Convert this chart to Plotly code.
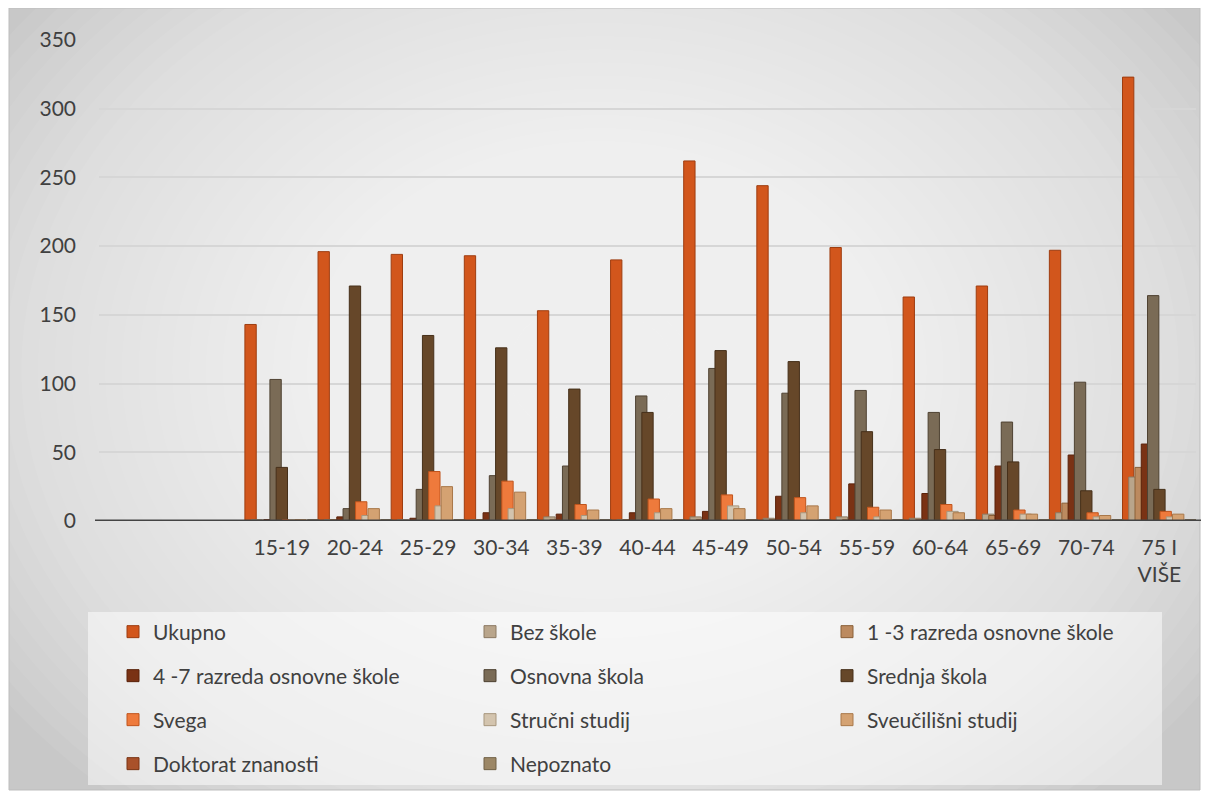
import plotly.graph_objects as go

categories = [" ", "  ", "15-19", "20-24", "25-29", "30-34", "35-39", "40-44",
              "45-49", "50-54", "55-59", "60-64", "65-69", "70-74", "75 I VIŠE"]
tick_labels = ["15-19", "20-24", "25-29", "30-34", "35-39", "40-44", "45-49",
               "50-54", "55-59", "60-64", "65-69", "70-74", "75 I<br>VIŠE"]

series_names = ["Ukupno", "Bez škole", "1 -3 razreda osnovne škole",
                "4 -7 razreda osnovne škole", "Osnovna škola", "Srednja škola",
                "Svega", "Stručni studij", "Sveučilišni studij",
                "Doktorat znanosti", "Nepoznato"]

ukupno      = [0, 0, 143, 196, 194, 193, 153, 190, 262, 244, 199, 163, 171, 197, 323]
bez_skole   = [0, 0, 1, 1, 1, 1, 3, 1, 3, 2, 3, 2, 5, 6, 32]
razred_1_3  = [0, 0, 0, 1, 0, 1, 1, 1, 1, 1, 1, 1, 4, 13, 39]
razred_4_7  = [0, 0, 1, 3, 2, 6, 5, 6, 7, 18, 27, 20, 40, 48, 56]
osnovna     = [0, 0, 103, 9, 23, 33, 40, 91, 111, 93, 95, 79, 72, 101, 164]
srednja     = [0, 0, 39, 171, 135, 126, 96, 79, 124, 116, 65, 52, 43, 22, 23]
svega       = [0, 0, 1, 14, 36, 29, 12, 16, 19, 17, 10, 12, 8, 6, 7]
strucni     = [0, 0, 1, 4, 11, 9, 4, 6, 11, 6, 3, 7, 5, 3, 3]
sveucilisni = [0, 0, 1, 9, 25, 21, 8, 9, 9, 11, 8, 6, 5, 4, 5]
doktorat    = [0, 0, 0, 0, 0, 0, 0, 0, 0, 0, 0, 0, 0, 0, 0]
nepoznato   = [0, 0, 1, 1, 1, 1, 1, 1, 1, 1, 1, 1, 1, 1, 1]

series_values = [ukupno, bez_skole, razred_1_3, razred_4_7, osnovna, srednja,
                 svega, strucni, sveucilisni, doktorat, nepoznato]

fill_colors = ["#D2561C", "#B9A58B", "#BC8A5F", "#7A3214", "#7A6B56", "#664729",
               "#EE7A3C", "#D3C4AE", "#D4A272", "#A9512A", "#9C8766"]
line_colors = ["#9E3D10", "#8C7A63", "#8A6038", "#5A220A", "#4F4232", "#46301A",
               "#C0541C", "#A8977E", "#A9784A", "#7A3414", "#716146"]

# page has an 8px body margin: work in reference pixel coords, shifted by OFF
OFF = 8
W, H = 1209 - OFF, 796 - OFF
PLOT_L, PLOT_R, PLOT_T, PLOT_B = 99 - OFF, 1196 - OFF, 40 - OFF, 521 - OFF
ML, MR, MT, MB = PLOT_L, W - PLOT_R, PLOT_T, H - PLOT_B
PW = PLOT_R - PLOT_L
PH = PLOT_B - PLOT_T


def xp(px):
    return (px - OFF - PLOT_L) / PW


def yp(py):
    return (PLOT_B - (py - OFF)) / PH


slot = 0.0855
bar_w = 0.155
font_family = "Lato"
text_color = "#404040"

fig = go.Figure()
legend_ids = ["legend", "legend2", "legend3", "legend4"]
for i, (name, vals) in enumerate(zip(series_names, series_values)):
    center = (i - 5) * slot
    fig.add_trace(go.Bar(
        name=name, x=categories, y=vals,
        width=bar_w, offset=center - bar_w / 2,
        marker=dict(color=fill_colors[i], line=dict(color=line_colors[i], width=1)),
        legend=legend_ids[i // 3],
        hoverinfo="x+y+name",
    ))

# background: chart area with a smooth radial-like gradient
shapes = [dict(type="rect", xref="paper", yref="paper", layer="below",
               x0=xp(9), x1=xp(1200), y0=yp(790), y1=yp(8),
               fillcolor="#C8C8C8", line=dict(width=0))]
cx, cy, rx, ry = 600, 370, 730, 570
n_layers = 40
for k in range(n_layers):
    s = 1.0 - k * (0.92 / n_layers)
    shapes.append(dict(type="circle", xref="paper", yref="paper", layer="below",
                       x0=xp(cx - rx * s), x1=xp(cx + rx * s),
                       y0=yp(cy + ry * s), y1=yp(cy - ry * s),
                       fillcolor="rgba(255,255,255,0.06)", line=dict(width=0)))
# white outside the chart frame + frame line
shapes += [
    dict(type="rect", xref="paper", yref="paper", layer="below",
         x0=xp(-20), x1=xp(9), y0=yp(820), y1=yp(-20), fillcolor="white", line=dict(width=0)),
    dict(type="rect", xref="paper", yref="paper", layer="below",
         x0=xp(1200), x1=xp(1230), y0=yp(820), y1=yp(-20), fillcolor="white", line=dict(width=0)),
    dict(type="rect", xref="paper", yref="paper", layer="below",
         x0=xp(-20), x1=xp(1230), y0=yp(8), y1=yp(-20), fillcolor="white", line=dict(width=0)),
    dict(type="rect", xref="paper", yref="paper", layer="below",
         x0=xp(-20), x1=xp(1230), y0=yp(820), y1=yp(790), fillcolor="white", line=dict(width=0)),
    dict(type="rect", xref="paper", yref="paper", layer="below",
         x0=xp(9), x1=xp(1200), y0=yp(790), y1=yp(8),
         fillcolor="rgba(0,0,0,0)", line=dict(color="#BDBDBD", width=1)),
    # legend box
    dict(type="rect", xref="paper", yref="paper", layer="below",
         x0=xp(88), x1=xp(1162), y0=yp(785), y1=yp(612),
         fillcolor="rgba(255,255,255,0.5)", line=dict(width=0)),
    # floor line (slightly wider than the category band, as in the 3D original)
    dict(type="line", xref="paper", yref="y", layer="above",
         x0=xp(95), x1=xp(1205), y0=0, y1=0,
         line=dict(color="#444444", width=3)),
]

row_y = [632, 676, 720, 764]
legend_cfg = {}
for r, lid in enumerate(legend_ids):
    legend_cfg[lid] = dict(
        orientation="h", x=xp(113), xanchor="left", y=yp(row_y[r]), yanchor="middle",
        bgcolor="rgba(0,0,0,0)", borderwidth=0,
        font=dict(family=font_family, size=21, color=text_color),
        entrywidth=312, entrywidthmode="pixels", traceorder="normal",
    )

fig.update_layout(
    width=W, height=H,
    margin=dict(l=ML, r=MR, t=MT, b=MB),
    paper_bgcolor="white", plot_bgcolor="rgba(0,0,0,0)",
    barmode="overlay",
    font=dict(family=font_family, size=21, color=text_color),
    shapes=shapes,
    showlegend=True,
    **legend_cfg,
)
fig.update_xaxes(
    type="category", categoryorder="array", categoryarray=categories,
    range=[-0.5, len(categories) - 0.5],
    tickmode="array", tickvals=categories[2:], ticktext=tick_labels,
    tickfont=dict(family=font_family, size=21, color=text_color),
    showline=False,
    showgrid=False, ticks="", ticklabelstandoff=12,
)
fig.update_yaxes(
    range=[0, 350], dtick=50, tick0=0,
    showgrid=True, gridcolor="#D6D6D6", gridwidth=1.5,
    zeroline=False, showline=False, ticks="",
    tickfont=dict(family=font_family, size=21, color=text_color),
    ticklabelstandoff=22,
)

fig.write_html("out.html")
